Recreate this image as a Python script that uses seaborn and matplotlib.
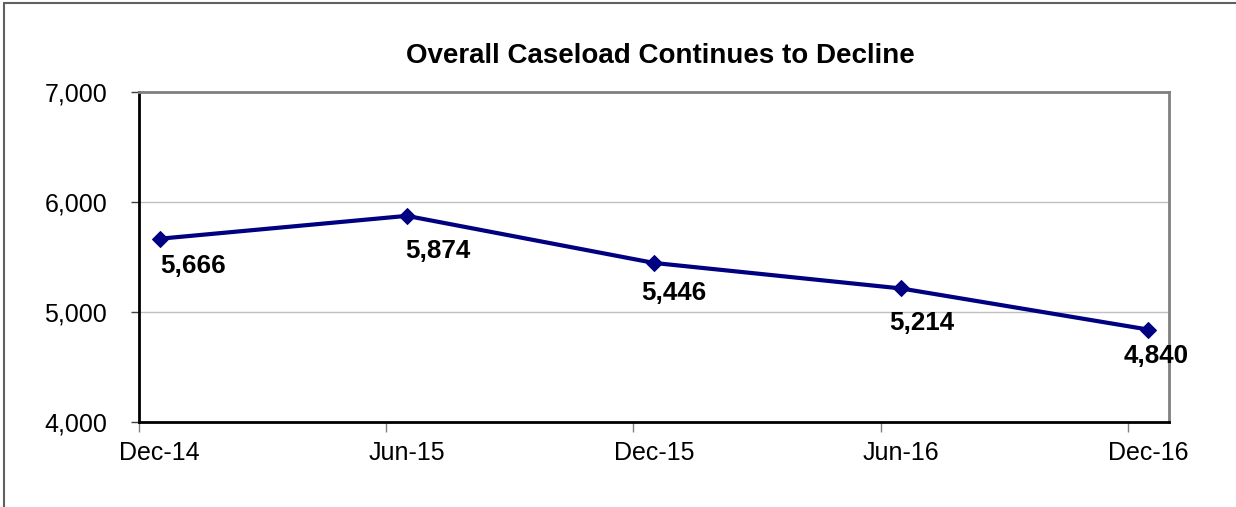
import numpy as np
import pandas as pd
import matplotlib
matplotlib.use("Agg")
import matplotlib.pyplot as plt
import seaborn as sns
from matplotlib.lines import Line2D

# --- data --------------------------------------------------------------------
periods = ["Dec-14", "Jun-15", "Dec-15", "Jun-16", "Dec-16"]
months_from_start = [0, 6, 12, 18, 24]          # month index of each period
caseload = [5666, 5874, 5446, 5214, 4840]
y_ticks = [4000, 5000, 6000, 7000]

# label offsets (pixels, right / down from the point) as placed in the original
label_dx = [33, 31, 20, 21, 8]
label_dy = [34, 42, 37, 42, 33]

title = "Overall Caseload Continues to Decline"

# --- style -------------------------------------------------------------------
sns.set_style("white")
plt.rcParams["font.family"] = ["Liberation Sans", "DejaVu Sans"]
plt.rcParams["text.color"] = "black"
plt.rcParams["xtick.labelcolor"] = "black"
plt.rcParams["ytick.labelcolor"] = "black"

W, H = 1236, 507
fig = plt.figure(figsize=(W / 100, H / 100), dpi=100)
ax = fig.add_axes([139 / W, 1 - 422 / H, (1169 - 139) / W, (422 - 92) / H])

# points sit in the middle of their month (Excel date axis)
df = pd.DataFrame({"x": np.array(months_from_start) + 0.5, "y": caseload})
sns.lineplot(data=df, x="x", y="y", ax=ax, color="#000080", linewidth=3.0,
             marker="D", markersize=8, markeredgecolor="#000080", zorder=3)

ax.set_xlim(0, 25)
ax.set_ylim(4000, 7000)
ax.set_xlabel("")
ax.set_ylabel("")

# y axis
ax.set_yticks(y_ticks)
ax.set_yticklabels([f"{v:,}" for v in y_ticks], fontsize=18)
ax.tick_params(axis="y", which="major", direction="out", length=6, width=1,
               color="#404040", pad=17, left=True)
for v in y_ticks[1:-1]:
    ax.axhline(v, color="#c0c0c0", linewidth=1, zorder=1)

# x axis: labels under points, tick marks at month boundaries
ax.set_xticks(df["x"])
ax.set_xticklabels(periods, fontsize=18)
ax.tick_params(axis="x", which="major", length=0, pad=14)
ax.set_xticks(months_from_start, minor=True)
ax.tick_params(axis="x", which="minor", direction="out", length=7, width=1,
               color="#808080", bottom=True)

for side in ["left", "bottom"]:
    ax.spines[side].set_color("black")
    ax.spines[side].set_linewidth(2)
for side in ["top", "right"]:
    ax.spines[side].set_color("#808080")
    ax.spines[side].set_linewidth(2)

# data labels
for x, y, t, dx, dy in zip(df["x"], caseload, caseload, label_dx, label_dy):
    ax.annotate(f"{t:,}", (x, y), xytext=(dx, -dy), textcoords="offset pixels",
                ha="center", va="baseline", fontsize=18.7, fontweight="bold",
                color="black", annotation_clip=False, zorder=4)

fig.text(660 / W, 1 - 56 / H, title, ha="center", va="center",
         fontsize=20, fontweight="bold")

# outer chart border (cut at the right and bottom)
fig.add_artist(Line2D([4 / W, 4 / W], [0, 1 - 3 / H], transform=fig.transFigure,
                      color="#606060", linewidth=1.5))
fig.add_artist(Line2D([4 / W, 1], [1 - 3 / H, 1 - 3 / H], transform=fig.transFigure,
                      color="#606060", linewidth=1.5))

fig.savefig("out.png", dpi=100)
